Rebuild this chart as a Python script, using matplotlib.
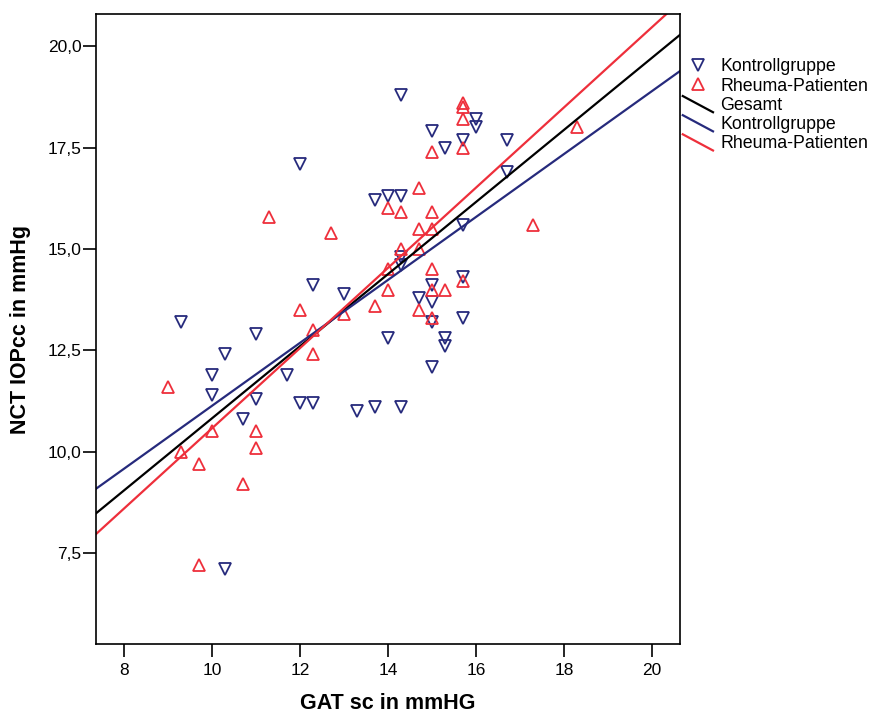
import matplotlib
matplotlib.use("Agg")
import matplotlib.pyplot as plt
import numpy as np
from matplotlib.lines import Line2D
from matplotlib.legend_handler import HandlerLine2D
from matplotlib.ticker import FuncFormatter

plt.rcParams['font.family'] = ['Liberation Sans', 'DejaVu Sans']

# Kontrollgruppe (GAT sc, NCT IOPcc)
kontroll_x = [9.3, 10.0, 10.3, 10.0, 11.0, 10.7, 11.0, 11.7, 12.0, 12.3,
              12.0, 12.3, 13.0, 13.3, 13.7, 14.3, 14.0, 14.3, 13.7, 14.0,
              14.3, 14.3, 14.3, 14.7, 15.0, 15.0, 15.0, 15.0, 15.3, 15.3,
              15.7, 15.7, 15.7, 15.0, 15.3, 15.7, 16.0, 16.0, 16.7, 16.7,
              10.3]
kontroll_y = [13.2, 11.9, 12.4, 11.4, 12.9, 10.8, 11.3, 11.9, 17.1, 14.1,
              11.2, 11.2, 13.9, 11.0, 11.1, 11.1, 12.8, 18.8, 16.2, 16.3,
              16.3, 14.8, 14.6, 13.8, 13.7, 14.1, 13.2, 12.1, 12.8, 12.6,
              14.3, 13.3, 15.6, 17.9, 17.5, 17.7, 18.2, 18.0, 17.7, 16.9,
              7.1]

# Rheuma-Patienten
rheuma_x = [9.0, 9.3, 9.7, 9.7, 10.0, 10.7, 11.0, 11.0, 11.3, 12.0,
            12.3, 12.3, 12.7, 13.0, 13.7, 14.0, 14.0, 14.0, 14.3, 14.3,
            14.7, 14.7, 14.7, 14.7, 15.0, 15.0, 15.0, 15.0, 15.0, 15.0,
            15.3, 15.7, 15.7, 15.7, 15.7, 15.7, 17.3, 18.3]
rheuma_y = [11.6, 10.0, 9.7, 7.2, 10.5, 9.2, 10.5, 10.1, 15.8, 13.5,
            13.0, 12.4, 15.4, 13.4, 13.6, 14.0, 14.5, 16.0, 15.0, 15.9,
            16.5, 15.5, 15.0, 13.5, 17.4, 15.9, 15.5, 14.5, 14.0, 13.3,
            14.0, 18.6, 18.5, 18.2, 17.5, 14.2, 15.6, 18.0]

blue = '#262a7c'
red = '#ee2f3b'


class DiagonalHandler(HandlerLine2D):
    def create_artists(self, legend, orig_handle, xdescent, ydescent,
                       width, height, fontsize, trans):
        line = Line2D([-xdescent, -xdescent + width],
                      [-ydescent + height * 1.1, -ydescent - height * 0.2])
        self.update_prop(line, orig_handle, legend)
        line.set_transform(trans)
        return [line]


fig = plt.figure(figsize=(8.72, 7.13), dpi=100)
ax = fig.add_axes([0.110, 0.097, 0.670, 0.883])

xlim = (7.36, 20.64)
ylim = (5.26, 20.79)

p1, = ax.plot(kontroll_x, kontroll_y, 'v', ms=8, mfc='none', mec=blue,
              mew=1.3, linestyle='none', label='Kontrollgruppe')
p2, = ax.plot(rheuma_x, rheuma_y, '^', ms=8, mfc='none', mec=red,
              mew=1.3, linestyle='none', label='Rheuma-Patienten')

xx = np.array(xlim)
all_x = kontroll_x + rheuma_x
all_y = kontroll_y + rheuma_y
fit_all = np.polyfit(all_x, all_y, 1)
fit_k = np.polyfit(kontroll_x, kontroll_y, 1)
fit_r = np.polyfit(rheuma_x, rheuma_y, 1)
l1, = ax.plot(xx, np.polyval(fit_all, xx), color='black', lw=1.6, label='Gesamt')
l2, = ax.plot(xx, np.polyval(fit_k, xx), color=blue, lw=1.6, label='Kontrollgruppe')
l3, = ax.plot(xx, np.polyval(fit_r, xx), color=red, lw=1.6, label='Rheuma-Patienten')

ax.set_xlim(*xlim)
ax.set_ylim(*ylim)
ax.set_xticks([8, 10, 12, 14, 16, 18, 20])
ax.set_yticks([7.5, 10.0, 12.5, 15.0, 17.5, 20.0])
ax.yaxis.set_major_formatter(FuncFormatter(lambda v, p: ('%.1f' % v).replace('.', ',')))
ax.tick_params(direction='out', length=9.5, width=1.2, labelsize=12.5)
ax.tick_params(axis='x', pad=4)
ax.tick_params(axis='y', pad=1)
for s in ax.spines.values():
    s.set_linewidth(1.2)

ax.set_xlabel('GAT sc in mmHG', fontsize=15.5, fontweight='bold', labelpad=11)
ax.set_ylabel('NCT IOPcc in mmHg', fontsize=15.5, fontweight='bold', labelpad=12)

fig.legend(handles=[p1, p2, l1, l2, l3], loc='upper left',
           bbox_to_anchor=(0.783, 0.918), frameon=False, fontsize=12.8,
           handlelength=1.7, handletextpad=0.4, labelspacing=0.12,
           borderaxespad=0, borderpad=0,
           handler_map={l1: DiagonalHandler(), l2: DiagonalHandler(),
                        l3: DiagonalHandler()})

fig.savefig('out.png', dpi=100)
